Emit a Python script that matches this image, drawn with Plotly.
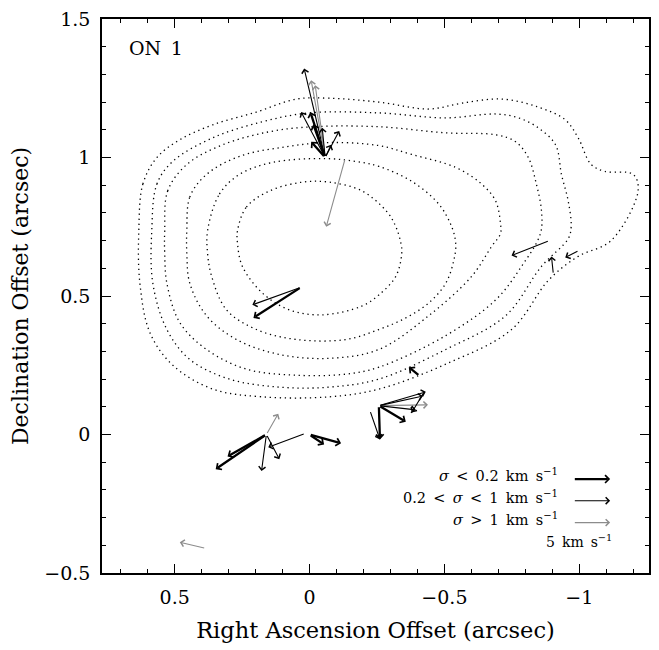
import plotly.graph_objects as go

# ---------------- data ----------------
# contour levels (x = RA offset, y = Dec offset, arcsec), outermost first
c1_x = [0.633, 0.618, 0.566, 0.481, 0.359, 0.197, 0.049, -0.073, -0.257, -0.442, -0.564, -0.712, -0.848, -0.948, -0.996, -1.044, -1.095, -1.200, -1.218, -1.118, -0.996, -0.886, -0.749, -0.505, -0.257, -0.073, 0.175, 0.359, 0.507, 0.592, 0.629]
c1_y = [0.736, 0.904, 1.000, 1.064, 1.118, 1.164, 1.211, 1.214, 1.200, 1.175, 1.196, 1.211, 1.182, 1.136, 1.071, 0.975, 0.950, 0.939, 0.879, 0.700, 0.643, 0.557, 0.379, 0.254, 0.164, 0.136, 0.136, 0.164, 0.250, 0.368, 0.546]
c2_x = [0.585, 0.566, 0.507, 0.359, 0.175, 0.001, -0.257, -0.505, -0.690, -0.775, -0.848, -0.912, -0.934, -0.959, -0.970, -0.959, -0.860, -0.727, -0.505, -0.257, -0.073, 0.112, 0.297, 0.444, 0.529, 0.581]
c2_y = [0.736, 0.904, 0.986, 1.071, 1.129, 1.161, 1.161, 1.143, 1.157, 1.143, 1.107, 1.046, 0.939, 0.843, 0.750, 0.707, 0.607, 0.429, 0.307, 0.200, 0.171, 0.171, 0.200, 0.271, 0.379, 0.546]
c3_x = [0.537, 0.526, 0.455, 0.322, 0.149, -0.010, -0.257, -0.505, -0.690, -0.764, -0.811, -0.841, -0.860, -0.856, -0.786, -0.690, -0.505, -0.257, -0.136, 0.049, 0.234, 0.382, 0.481, 0.529, 0.537]
c3_y = [0.736, 0.879, 0.975, 1.046, 1.093, 1.111, 1.111, 1.089, 1.082, 1.057, 1.000, 0.904, 0.807, 0.725, 0.607, 0.486, 0.357, 0.243, 0.218, 0.214, 0.236, 0.307, 0.404, 0.546, 0.654]
c4_x = [0.455, 0.444, 0.382, 0.260, 0.086, -0.073, -0.257, -0.379, -0.542, -0.638, -0.690, -0.708, -0.708, -0.675, -0.601, -0.442, -0.257, -0.073, 0.112, 0.271, 0.382, 0.444, 0.455]
c4_y = [0.736, 0.857, 0.939, 1.004, 1.039, 1.054, 1.043, 1.011, 0.964, 0.904, 0.843, 0.761, 0.725, 0.679, 0.571, 0.429, 0.307, 0.275, 0.289, 0.343, 0.429, 0.546, 0.654]
c5_x = [0.378, 0.334, 0.260, 0.138, -0.062, -0.195, -0.257, -0.379, -0.479, -0.527, -0.542, -0.535, -0.505, -0.442, -0.357, -0.257, -0.136, 0.049, 0.197, 0.308, 0.363, 0.378]
c5_y = [0.736, 0.868, 0.939, 0.982, 0.996, 0.982, 0.968, 0.914, 0.832, 0.750, 0.689, 0.629, 0.546, 0.475, 0.421, 0.379, 0.343, 0.343, 0.379, 0.450, 0.571, 0.654]
c6_x = [0.267, 0.234, 0.149, 0.027, -0.073, -0.195, -0.287, -0.320, -0.339, -0.342, -0.320, -0.257, -0.195, -0.047, 0.075, 0.175, 0.249, 0.267]
c6_y = [0.736, 0.821, 0.879, 0.911, 0.911, 0.879, 0.804, 0.750, 0.689, 0.654, 0.571, 0.504, 0.464, 0.432, 0.450, 0.511, 0.607, 0.689]

# velocity vectors: tail (x0, y0) -> head (x1, y1) in arcsec; class 0: sigma<0.2, 1: 0.2<sigma<1, 2: sigma>1
vec_x0 = [-0.058, -0.058, -0.058, -0.058, -0.058, -0.058, -0.058, -0.058, -0.058, -0.058, -0.132,
          0.031, 0.031,
          0.160, 0.160, 0.160, 0.160, 0.160, 0.016, 0.001, 0.001,
          -0.409, -0.257, -0.257, -0.257, -0.257, -0.257, -0.257, -0.427, -0.224,
          -0.889, -0.904, -0.999, 0.385]
vec_y0 = [1.000, 1.000, 1.000, 1.000, 1.000, 1.000, 1.000, 1.000, 1.000, 1.000, 0.996,
          0.532, 0.532,
          0.000, 0.000, 0.000, 0.000, 0.000, 0.004, 0.000, 0.000,
          0.211, 0.104, 0.104, 0.104, 0.104, 0.104, 0.104, 0.157, 0.086,
          0.700, 0.579, 0.664, -0.411]
vec_x1 = [0.020, -0.006, -0.021, 0.031, -0.003, -0.047, -0.110, -0.006, -0.080, -0.014, -0.062,
          0.212, 0.208,
          0.304, 0.348, 0.116, 0.178, 0.112, 0.153, -0.054, -0.117,
          -0.368, -0.261, -0.431, -0.439, -0.357, -0.394, -0.420, -0.379, -0.261,
          -0.749, -0.897, -0.948, 0.481]
vec_y1 = [1.321, 1.279, 1.261, 1.164, 1.164, 1.107, 1.096, 1.057, 1.046, 1.120, 0.750,
          0.468, 0.421,
          -0.079, -0.125, 0.075, -0.132, -0.089, -0.046, -0.036, -0.032,
          0.243, -0.018, 0.154, 0.107, 0.046, 0.089, 0.139, 0.079, -0.018,
          0.646, 0.643, 0.639, -0.389]
vec_cls = [1, 2, 2, 1, 0, 1, 1, 0, 1, 0, 2,
           1, 0,
           0, 0, 2, 1, 1, 1, 0, 0,
           0, 0, 1, 2, 0, 1, 1, 1, 1,
           1, 1, 1, 2]

SP = "&#8194;"
legend_labels = ["<i>σ</i>" + SP + "&lt;" + SP + "0.2" + SP + "km" + SP + "s<sup>−1</sup>",
                 "0.2" + SP + "&lt;" + SP + "<i>σ</i>" + SP + "&lt;" + SP + "1" + SP + "km" + SP + "s<sup>−1</sup>",
                 "<i>σ</i>" + SP + "&gt;" + SP + "1" + SP + "km" + SP + "s<sup>−1</sup>"]
scale_label = "5" + SP + "km" + SP + "s<sup>−1</sup>"
field_label = "ON" + SP + "1"

# ---------------- styles ----------------
FONT = "DejaVu Serif"
cls_color = ["#000000", "#000000", "#8c8c8c"]
cls_width = [2.3, 1.1, 1.1]
cls_size = [0.65, 1.2, 1.2]

fig = go.Figure()

for cx, cy in [(c1_x, c1_y), (c2_x, c2_y), (c3_x, c3_y), (c4_x, c4_y), (c5_x, c5_y), (c6_x, c6_y)]:
    fig.add_trace(go.Scatter(
        x=cx + cx[:1], y=cy + cy[:1], mode="lines",
        line=dict(color="black", width=1.3, dash="1.3px,3.7px", shape="spline", smoothing=1.0),
        hoverinfo="skip", showlegend=False))

annotations = []
for x0, y0, x1, y1, c in zip(vec_x0, vec_y0, vec_x1, vec_y1, vec_cls):
    annotations.append(dict(
        x=x1, y=y1, ax=x0, ay=y0, xref="x", yref="y", axref="x", ayref="y",
        text="", showarrow=True, arrowhead=4, arrowsize=cls_size[c],
        arrowwidth=cls_width[c], arrowcolor=cls_color[c], standoff=0, startstandoff=0))

# legend
leg_y = [-0.161, -0.239, -0.318]
for i, (lab, ly) in enumerate(zip(legend_labels, leg_y)):
    annotations.append(dict(
        x=-1.1145, y=ly, ax=-0.978, ay=ly, xref="x", yref="y", axref="x", ayref="y",
        text="", showarrow=True, arrowhead=4, arrowsize=cls_size[i],
        arrowwidth=cls_width[i], arrowcolor=cls_color[i], standoff=0))
    annotations.append(dict(
        x=-0.93, y=ly + 0.014, xref="x", yref="y", text=lab, showarrow=False,
        xanchor="right", yanchor="middle", font=dict(family=FONT, size=14.5, color="black")))
annotations.append(dict(
    x=-1.128, y=-0.383, xref="x", yref="y", text=scale_label, showarrow=False,
    xanchor="right", yanchor="middle", font=dict(family=FONT, size=14, color="black")))
annotations.append(dict(
    x=0.678, y=1.396, xref="x", yref="y", text=field_label, showarrow=False,
    xanchor="left", yanchor="middle", font=dict(family=FONT, size=19, color="black")))

axis_common = dict(
    showline=True, linecolor="black", linewidth=1.5, mirror="allticks",
    ticks="inside", ticklen=9, tickwidth=1.2, tickcolor="black",
    showgrid=False, zeroline=False,
    tickfont=dict(family=FONT, size=19, color="black"),
    minor=dict(ticks="inside", ticklen=4.5, tickwidth=1.0, tickcolor="black", dtick=0.1, showgrid=False),
)

fig.update_layout(
    width=659, height=650,
    margin=dict(l=102, r=8, t=13, b=77),
    paper_bgcolor="white", plot_bgcolor="white",
    showlegend=False,
    annotations=annotations,
    xaxis=dict(range=[0.7695, -1.2586], tickvals=[0.5, 0, -0.5, -1], ticktext=["0.5", "0", "−0.5", "−1"],
               title=dict(text="Right Ascension Offset (arcsec)", font=dict(family=FONT, size=22.5, color="black"), standoff=16),
               ticklabelstandoff=6, **axis_common),
    yaxis=dict(range=[-0.5, 1.5], tickvals=[-0.5, 0, 0.5, 1, 1.5], ticktext=["−0.5", "0", "0.5", "1", "1.5"],
               title=dict(text="Declination Offset (arcsec)", font=dict(family=FONT, size=22, color="black"), standoff=10),
               ticklabelstandoff=6, **axis_common),
)

fig.write_html("out.html")
